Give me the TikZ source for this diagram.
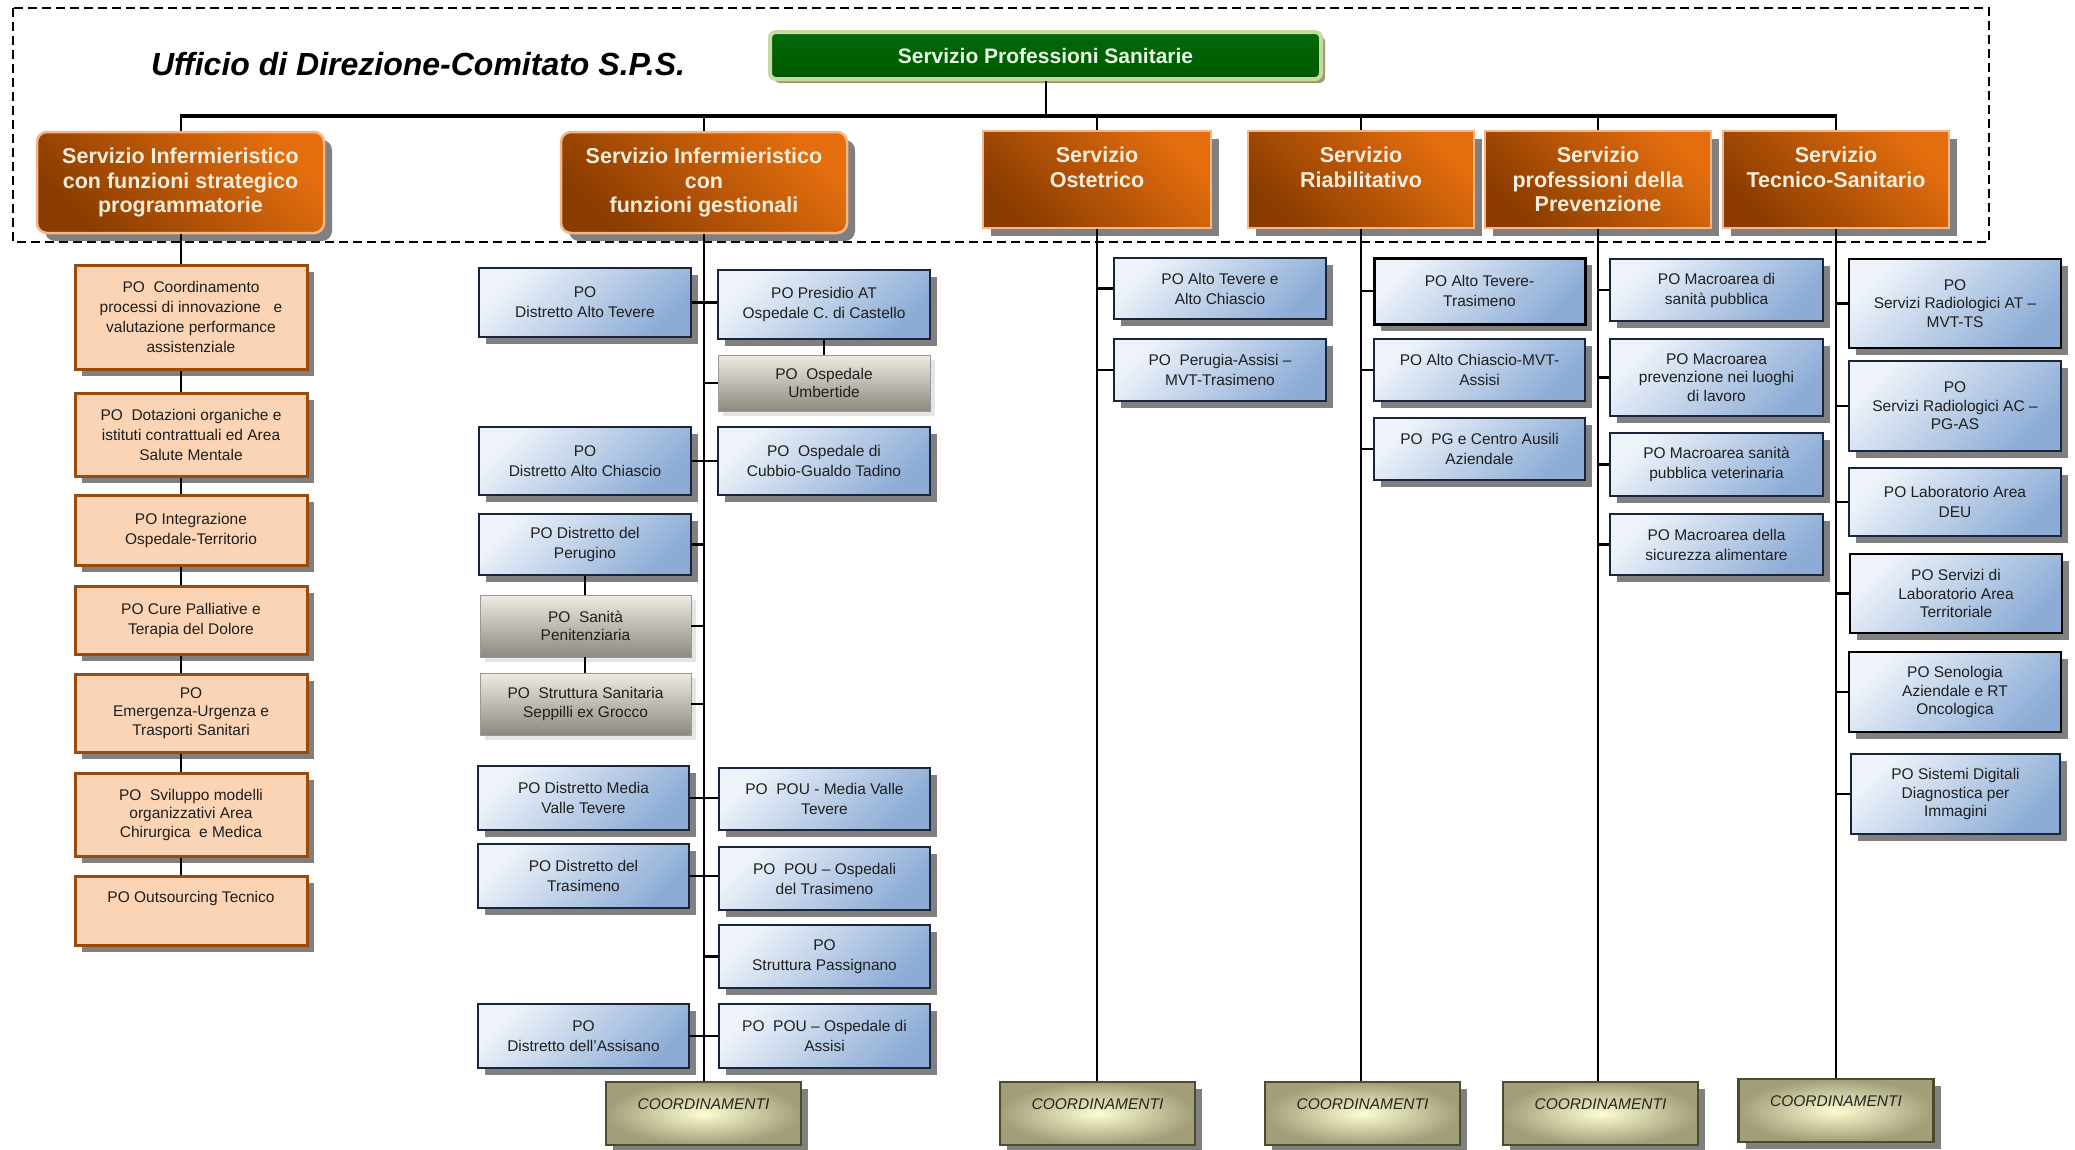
\documentclass[tikz,border=0pt]{standalone}
\usepackage{fontspec}
\setmainfont{Liberation Sans}
\usetikzlibrary{shadows}
\definecolor{peachF}{HTML}{FAD4B4}
\definecolor{peachB}{HTML}{9C4A0C}
\definecolor{blueL}{HTML}{EEF3FA}
\definecolor{blueD}{HTML}{8CACD6}
\definecolor{navy}{HTML}{18263D}
\definecolor{grayL}{HTML}{EEECE2}
\definecolor{grayD}{HTML}{8C8A80}
\definecolor{orL}{HTML}{E46E0E}
\definecolor{orD}{HTML}{8A3C00}
\definecolor{orB}{HTML}{F6B585}
\definecolor{orT}{HTML}{F4EDDC}
\definecolor{grF}{HTML}{005800}
\definecolor{grF2}{HTML}{006A08}
\definecolor{grB}{HTML}{C5DAA5}
\definecolor{grT}{HTML}{EAF5E4}
\definecolor{coIn}{HTML}{FEFDD2}
\definecolor{coOut}{HTML}{A19E78}
\definecolor{coB}{HTML}{4E4A2C}
\definecolor{shd}{HTML}{808080}
\newcommand\boxfont{\fontsize{15.5}{20}\selectfont}
\newcommand\tightfont{\fontsize{15.5}{18.5}\selectfont}
\newcommand\headfont{\fontsize{21.5}{24.5}\selectfont\bfseries}
\tikzset{
  box/.style={align=center, inner sep=0pt, font=\boxfont, text=black!88},
  sh/.style={general shadow={fill=shd, shadow xshift=7pt, shadow yshift=-7pt}},
  peach/.style={box, sh, fill=peachF, draw=peachB, line width=3pt},
  bluebox/.style={box, sh, draw=navy, line width=2.6pt, top color=blueL, bottom color=blueD, shading angle=45},
  graybox/.style={box, general shadow={fill=black!10, shadow xshift=5pt, shadow yshift=-5pt}, draw=black!40, line width=0.8pt, top color=grayL, bottom color=grayD, font=\tightfont},
  head/.style={align=center, inner sep=0pt, font=\headfont, text=orT, draw=orB, line width=2.5pt, top color=orL, bottom color=orD, shading angle=-45, general shadow={fill=shd, shadow xshift=8pt, shadow yshift=-8pt}},
  coordbox/.style={inner sep=0pt, font=\boxfont\itshape, text=black!85, draw=coB, line width=2.5pt, inner color=coIn, outer color=coOut, sh, minimum width=195pt, minimum height=63pt, text depth=19pt},
  wire/.style={line width=2pt},
  stub/.style={line width=2.8pt},
}
\begin{document}
\begin{tikzpicture}[x=1pt,y=-1pt]
\useasboundingbox (0,0) rectangle (2075,1149);
\draw[line width=1.3pt, dash pattern=on 9pt off 5pt] (13,8) rectangle (1989,242);

% title and top
\node[font=\fontsize{32}{38}\selectfont\bfseries\itshape] (title) at (418,64) {Ufficio di Direzione-Comitato S.P.S.};
\node[rounded corners=6pt, draw=grB, line width=4pt, top color=grF2, bottom color=grF, minimum width=551pt, minimum height=47pt, inner sep=0pt, text=grT, font=\fontsize{21}{25}\selectfont\bfseries, general shadow={fill=black!45!olive!60, shadow xshift=4pt, shadow yshift=-4pt}] (top) at (1045.5,55.5) {Servizio Professioni Sanitarie};

% level 1
\node[head, rounded corners=10pt, minimum width=287pt, minimum height=101pt] (s1) at (180.5,182.5) {Servizio Infermieristico\\con funzioni strategico\\programmatorie};
\node[head, rounded corners=10pt, minimum width=286pt, minimum height=101pt] (s2) at (704,182.5) {Servizio Infermieristico\\con\\funzioni gestionali};
\node[head, minimum width=228pt, minimum height=97pt] (s3) at (1097,179.5) {Servizio\\Ostetrico\\\mbox{}};
\node[head, minimum width=226pt, minimum height=97pt] (s4) at (1361,179.5) {Servizio\\Riabilitativo\\\mbox{}};
\node[head, minimum width=226pt, minimum height=97pt] (s5) at (1598,179.5) {Servizio\\professioni della\\Prevenzione};
\node[head, minimum width=226pt, minimum height=97pt] (s6) at (1836,179.5) {Servizio\\Tecnico-Sanitario\\\mbox{}};

\coordinate (busL) at (180,116);
\coordinate (busR) at (1837,116);
\draw[line width=4.5pt] (busL) -- (busR);
\draw[wire] (top.south) -- (top.south |- busL);
\foreach \s in {s1,s2,s3,s4,s5,s6} \draw[wire] (\s.north) -- (\s.north |- busL);

% column 1
\node[peach, minimum width=232pt, minimum height=104pt] (b1) at (191,317) {PO\ \ Coordinamento\\processi di innovazione\ \ \ e\\valutazione performance\\assistenziale};
\node[peach, minimum width=232pt, minimum height=83pt] (b2) at (191,434.5) {PO\ \ Dotazioni organiche e\\istituti contrattuali ed Area\\Salute Mentale};
\node[peach, minimum width=232pt, minimum height=70pt] (b3) at (191,530) {PO Integrazione\\Ospedale-Territorio};
\node[peach, minimum width=232pt, minimum height=68pt] (b4) at (191,620) {PO Cure Palliative e\\Terapia del Dolore};
\node[peach, font=\tightfont, minimum width=232pt, minimum height=78pt] (b5) at (191,713) {PO\\Emergenza-Urgenza e\\Trasporti Sanitari};
\node[peach, font=\tightfont, minimum width=232pt, minimum height=83pt] (b6) at (191,814.5) {PO\ \ Sviluppo modelli\\organizzativi Area\\Chirurgica\ \ e Medica};
\node[peach, minimum width=232pt, minimum height=69pt, text depth=27pt] (b7) at (191,910.5) {PO Outsourcing Tecnico};
\draw[wire] (s1.south) -- (s1.south |- b1.north);
\foreach \a/\b in {b1/b2,b2/b3,b3/b4,b4/b5,b5/b6,b6/b7}
  \draw[wire] (s1.south |- \a.south) -- (s1.south |- \b.north);

% column 2
\node[bluebox, minimum width=212pt, minimum height=69pt] (dat) at (585,302.5) {PO\\Distretto Alto Tevere};
\node[bluebox, minimum width=212pt, minimum height=69pt] (pat) at (824,304.5) {PO Presidio AT\\Ospedale C. di Castello};
\node[graybox, minimum width=212pt, minimum height=56pt] (umb) at (824,383) {PO\ \ Ospedale\\Umbertide};
\node[bluebox, minimum width=212pt, minimum height=68pt] (dac) at (585,461) {PO\\Distretto Alto Chiascio};
\node[bluebox, minimum width=212pt, minimum height=68pt] (cub) at (824,461) {PO\ \ Ospedale di\\Cubbio-Gualdo Tadino};
\node[bluebox, minimum width=212pt, minimum height=61pt] (per) at (585,544.5) {PO Distretto del\\Perugino};
\node[graybox, minimum width=211pt, minimum height=62pt] (san) at (585.5,626) {PO\ \ Sanità\\Penitenziaria};
\node[graybox, minimum width=211pt, minimum height=62pt] (sep) at (585.5,704) {PO\ \ Struttura Sanitaria\\Seppilli ex Grocco};
\node[bluebox, minimum width=211pt, minimum height=64pt] (dmv) at (583.5,798) {PO Distretto Media\\Valle Tevere};
\node[bluebox, minimum width=211pt, minimum height=62pt] (pmv) at (824.5,799) {PO\ \ POU - Media Valle\\Tevere};
\node[bluebox, minimum width=211pt, minimum height=64pt] (dtr) at (583.5,876) {PO Distretto del\\Trasimeno};
\node[bluebox, minimum width=211pt, minimum height=63pt] (ptr) at (824.5,878.5) {PO\ \ POU – Ospedali\\del Trasimeno};
\node[bluebox, minimum width=211pt, minimum height=63pt] (pas) at (824.5,956.5) {PO\\Struttura Passignano};
\node[bluebox, minimum width=211pt, minimum height=64pt] (das) at (583.5,1036) {PO\\Distretto dell’Assisano};
\node[bluebox, minimum width=211pt, minimum height=64pt] (pai) at (824.5,1036) {PO\ \ POU – Ospedale di\\Assisi};
\node[coordbox] (k2) at (703.5,1113.5) {COORDINAMENTI};
\draw[wire] (s2.south) -- (s2.south |- k2.north);
\foreach \l/\r in {dat/pat,dac/cub,dmv/pmv,dtr/ptr,das/pai}
  \draw[stub] (\l.east) -- (\l.east -| \r.west);
\foreach \l in {per,san,sep}
  \draw[stub] (\l.east) -- (\l.east -| s2.south);
\foreach \r in {umb,pas}
  \draw[stub] (\r.west) -- (\r.west -| s2.south);
\draw[wire] (pat.south) -- (pat.south |- umb.north);
\draw[wire] (per.south) -- (per.south |- san.north);
\draw[wire] (per.south |- san.south) -- (per.south |- sep.north);

% column 3
\node[bluebox, minimum width=212pt, minimum height=61pt] (ob1) at (1220,288.5) {PO Alto Tevere e\\Alto Chiascio};
\node[bluebox, minimum width=212pt, minimum height=62pt] (ob2) at (1220,370) {PO\ \ Perugia-Assisi –\\MVT-Trasimeno};
\node[coordbox] (k3) at (1097.5,1113.5) {COORDINAMENTI};
\draw[wire] (s3.south) -- (s3.south |- k3.north);

% column 4
\node[bluebox, minimum width=211pt, minimum height=66pt, draw=black, line width=3pt] (rb1) at (1479.5,291) {PO Alto Tevere-\\Trasimeno};
\node[bluebox, minimum width=211pt, minimum height=62pt] (rb2) at (1479.5,370) {PO Alto Chiascio-MVT-\\Assisi};
\node[bluebox, minimum width=211pt, minimum height=62pt] (rb3) at (1479.5,449) {PO\ \ PG e Centro Ausili\\Aziendale};
\node[coordbox] (k4) at (1362.5,1113.5) {COORDINAMENTI};
\draw[wire] (s4.south) -- (s4.south |- k4.north);

% column 5
\node[bluebox, minimum width=213pt, minimum height=62pt] (pb1) at (1716.5,290) {PO Macroarea di\\sanità pubblica};
\node[bluebox, font=\tightfont, minimum width=213pt, minimum height=77pt] (pb2) at (1716.5,377.5) {PO Macroarea\\prevenzione nei luoghi\\di lavoro};
\node[bluebox, minimum width=213pt, minimum height=63pt] (pb3) at (1716.5,464.5) {PO Macroarea sanità\\pubblica veterinaria};
\node[bluebox, minimum width=213pt, minimum height=61pt] (pb4) at (1716.5,544.5) {PO Macroarea della\\sicurezza alimentare};
\node[coordbox] (k5) at (1600.5,1113.5) {COORDINAMENTI};
\draw[wire] (s5.south) -- (s5.south |- k5.north);

% column 6
\node[bluebox, font=\tightfont, minimum width=212pt, minimum height=89pt, draw=black] (tb1) at (1955,303.5) {PO\\Servizi Radiologici AT –\\MVT-TS};
\node[bluebox, font=\tightfont, minimum width=212pt, minimum height=90pt] (tb2) at (1955,406) {PO\\Servizi Radiologici AC –\\PG-AS};
\node[bluebox, minimum width=212pt, minimum height=68pt] (tb3) at (1955,502) {PO Laboratorio Area\\DEU};
\node[bluebox, font=\tightfont, minimum width=212pt, minimum height=79pt, draw=black] (tb4) at (1956,593.5) {PO Servizi di\\Laboratorio Area\\Territoriale};
\node[bluebox, font=\tightfont, minimum width=212pt, minimum height=80pt, draw=black] (tb5) at (1955,692) {PO Senologia\\Aziendale e RT\\Oncologica};
\node[bluebox, font=\tightfont, minimum width=209pt, minimum height=80pt] (tb6) at (1955.5,794) {PO Sistemi Digitali\\Diagnostica per\\Immagini};
\node[coordbox] (k6) at (1836,1110.5) {COORDINAMENTI};
\draw[wire] (s6.south) -- (s6.south |- k6.north);

\foreach \n/\s in {ob1/s3,ob2/s3,rb1/s4,rb2/s4,rb3/s4,pb1/s5,pb2/s5,pb3/s5,pb4/s5,tb1/s6,tb2/s6,tb3/s6,tb4/s6,tb5/s6,tb6/s6}
  \draw[stub] (\n.west) -- (\n.west -| \s.south);
\end{tikzpicture}
\end{document}
